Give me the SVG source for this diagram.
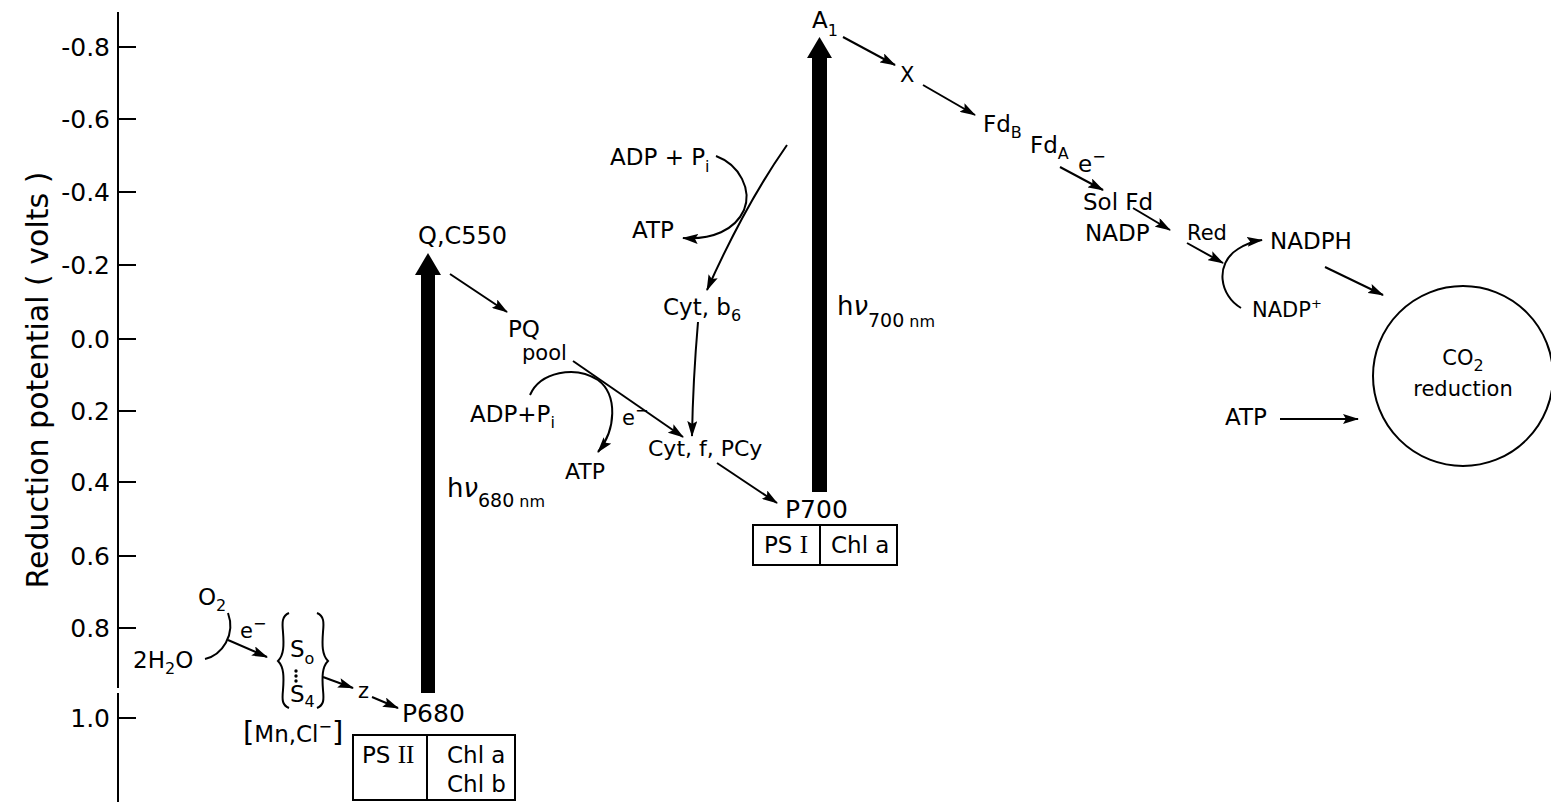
<svg xmlns="http://www.w3.org/2000/svg" width="1551" height="802" viewBox="0 0 1551 802">
<style>
text{font-family:"DejaVu Sans","Liberation Sans",sans-serif;fill:#000;font-size:23px}
.tick{font-size:25px;text-anchor:end}
.sub{font-size:16px}
.sm{font-size:21px}
.rom{font-family:"Liberation Serif",serif}
.ln{fill:none;stroke:#000;stroke-width:2}
.ar{fill:none;stroke:#000;stroke-width:2;marker-end:url(#ah)}
.box{fill:#fff;stroke:#000;stroke-width:2}
</style>
<defs>
<marker id="ah" viewBox="0 0 16 10" refX="15" refY="5" markerWidth="16" markerHeight="10" markerUnits="userSpaceOnUse" orient="auto">
<path d="M0,0 L16,5 L0,10 L3,5 Z" fill="#000"/>
</marker>
</defs>
<rect width="1551" height="802" fill="#fff"/>

<g id="axis">
<path class="ln" d="M118,12 V688 M118,693 V802"/>
<path class="ln" d="M118,47 H136 M118,119 H136 M118,192 H136 M118,265 H136 M118,339 H136 M118,411 H136 M118,482 H136 M118,556 H136 M118,628 H136 M118,718 H136"/>
<text class="tick" x="110" y="56">-0.8</text>
<text class="tick" x="110" y="128">-0.6</text>
<text class="tick" x="110" y="201">-0.4</text>
<text class="tick" x="110" y="274">-0.2</text>
<text class="tick" x="110" y="348">0.0</text>
<text class="tick" x="110" y="420">0.2</text>
<text class="tick" x="110" y="491">0.4</text>
<text class="tick" x="110" y="565">0.6</text>
<text class="tick" x="110" y="637">0.8</text>
<text class="tick" x="110" y="727">1.0</text>
<text transform="translate(48,380) rotate(-90)" text-anchor="middle" style="font-size:30px">Reduction potential ( volts )</text>
</g>

<g id="connectors">
<path class="ar" d="M450,274 L507,312"/>
<path class="ar" d="M573,361 L683,437"/>
<path class="ar" d="M717,463 L777,503"/>
<path class="ar" d="M698,322 Q693,380 692,436"/>
<path class="ar" d="M787,145 Q745,205 707,290"/>
<path class="ar" d="M716,156 C740,165 752,190 744,210 C735,230 712,240 683,238"/>
<path class="ar" d="M530,395 C540,372 575,365 598,380 C618,395 616,430 598,452"/>
<path class="ar" d="M843,37 L895,65"/>
<path class="ar" d="M923,85 L975,115"/>
<path class="ar" d="M1060,167 L1103,190"/>
<path class="ar" d="M1133,208 L1170,230"/>
<path class="ar" d="M1187,243 L1223,263"/>
<path class="ar" d="M1241,308 C1220,296 1214,264 1238,249 C1246,244 1254,241 1262,240"/>
<path class="ar" d="M1325,267 L1383,295"/>
<path class="ar" d="M1280,419 L1358,419"/>
<path class="ln" d="M205,659 C222,655 236,635 228,613"/>
<path class="ar" d="M228,640 L267,657"/>
<path class="ar" d="M323,677 L353,688"/>
<path class="ar" d="M372,697 L398,708"/>
</g>

<g id="light-psii">
<rect x="421" y="272" width="14" height="421" fill="#000"/>
<polygon points="428,253 441,275 415,275" fill="#000"/>
<text x="447" y="497" style="font-size:26px">h<tspan font-style="italic">ν</tspan><tspan dy="10" style="font-size:19px">680</tspan><tspan style="font-size:16px"> nm</tspan></text>
</g>

<g id="light-psi">
<rect x="812" y="56" width="15" height="436" fill="#000"/>
<polygon points="819.5,37 832,58 807,58" fill="#000"/>
<text x="837" y="315" style="font-size:26px">h<tspan font-style="italic">ν</tspan><tspan dy="12" style="font-size:19px">700</tspan><tspan style="font-size:16px"> nm</tspan></text>
</g>

<g id="water">
<text x="133" y="668">2H<tspan class="sub" dy="6">2</tspan><tspan dy="-6">O</tspan></text>
<text x="198" y="605">O<tspan class="sub" dy="6">2</tspan></text>
<text class="sm" x="240" y="638">e<tspan class="sub" dy="-9">−</tspan></text>
</g>

<g id="s-states">
<path class="ln" d="M289,613 C282,616 282,622 283,632 C284,645 284,655 278,661 C284,667 284,677 283,690 C282,700 282,705 289,708"/>
<path class="ln" d="M317,613 C324,616 324,622 323,632 C322,645 322,655 328,661 C322,667 322,677 323,690 C324,700 324,705 317,708"/>
<text x="290" y="657">S<tspan class="sub" dy="7">o</tspan></text>
<circle cx="296" cy="671" r="1.7"/><circle cx="296" cy="676" r="1.7"/><circle cx="296" cy="681" r="1.7"/>
<text x="290" y="702">S<tspan class="sub" dy="5">4</tspan></text>
<text x="243" y="742"><tspan style="font-size:29px">[</tspan>Mn,Cl<tspan class="sub" dy="-10">−</tspan><tspan dy="10" style="font-size:29px">]</tspan></text>
</g>

<g id="z"><text class="sm" x="358" y="698">z</text></g>

<g id="p680"><text x="402" y="722" style="font-size:25px">P680</text></g>

<g id="psii-box">
<rect class="box" x="353" y="735" width="162" height="65"/>
<path class="ln" d="M427,735 V800"/>
<text x="362" y="763">PS <tspan class="rom" style="font-size:25px">II</tspan></text>
<text x="447" y="763">Chl a</text>
<text x="447" y="792">Chl b</text>
</g>

<g id="q-c550"><text x="418" y="244" style="font-size:24px">Q,C550</text></g>
<g id="pq-pool"><text x="508" y="337">PQ</text><text class="sm" x="522" y="360">pool</text></g>

<g id="phos-lower">
<text x="470" y="422">ADP+P<tspan class="sub" dy="6">i</tspan></text>
<text class="sm" x="622" y="425">e<tspan class="sub" dy="-9">−</tspan></text>
<text x="565" y="479" style="font-size:22px">ATP</text>
</g>

<g id="cyt-f"><text x="648" y="456" style="font-size:22px">Cyt, f, PCy</text></g>
<g id="cyt-b6"><text x="663" y="315">Cyt, b<tspan class="sub" dy="6">6</tspan></text></g>

<g id="phos-upper">
<text x="610" y="165">ADP + P<tspan class="sub" dy="7">i</tspan></text>
<text x="632" y="238">ATP</text>
</g>

<g id="p700"><text x="785" y="518" style="font-size:25px">P700</text></g>

<g id="psi-box">
<rect class="box" x="753" y="525" width="144" height="40"/>
<path class="ln" d="M820,525 V565"/>
<text x="764" y="553">PS <tspan class="rom" style="font-size:25px">I</tspan></text>
<text x="831" y="553">Chl a</text>
</g>

<g id="a1"><text x="812" y="28">A<tspan class="sub" dy="8">1</tspan></text></g>
<g id="x"><text class="sm" x="900" y="82">X</text></g>
<g id="fd"><text x="983" y="132">Fd<tspan class="sub" dy="6">B</tspan></text>
<text x="1030" y="153">Fd<tspan class="sub" dy="6">A</tspan></text>
<text x="1078" y="172">e<tspan class="sub" dy="-10">−</tspan></text></g>
<g id="sol-fd"><text x="1083" y="210">Sol Fd</text><text x="1085" y="241">NADP</text></g>
<g id="red"><text class="sm" x="1187" y="240">Red</text></g>
<g id="nadph"><text x="1270" y="249">NADPH</text></g>
<g id="nadp"><text class="sm" x="1252" y="317">NADP<tspan style="font-size:13px" dy="-9">+</tspan></text></g>
<g id="atp-right"><text x="1225" y="425">ATP</text></g>

<g id="co2">
<circle cx="1463" cy="376" r="90" fill="none" stroke="#000" stroke-width="2"/>
<text class="sm" x="1463" y="365" text-anchor="middle">CO<tspan class="sub" dy="6">2</tspan></text>
<text x="1463" y="396" text-anchor="middle" style="font-size:21px">reduction</text>
</g>
</svg>
